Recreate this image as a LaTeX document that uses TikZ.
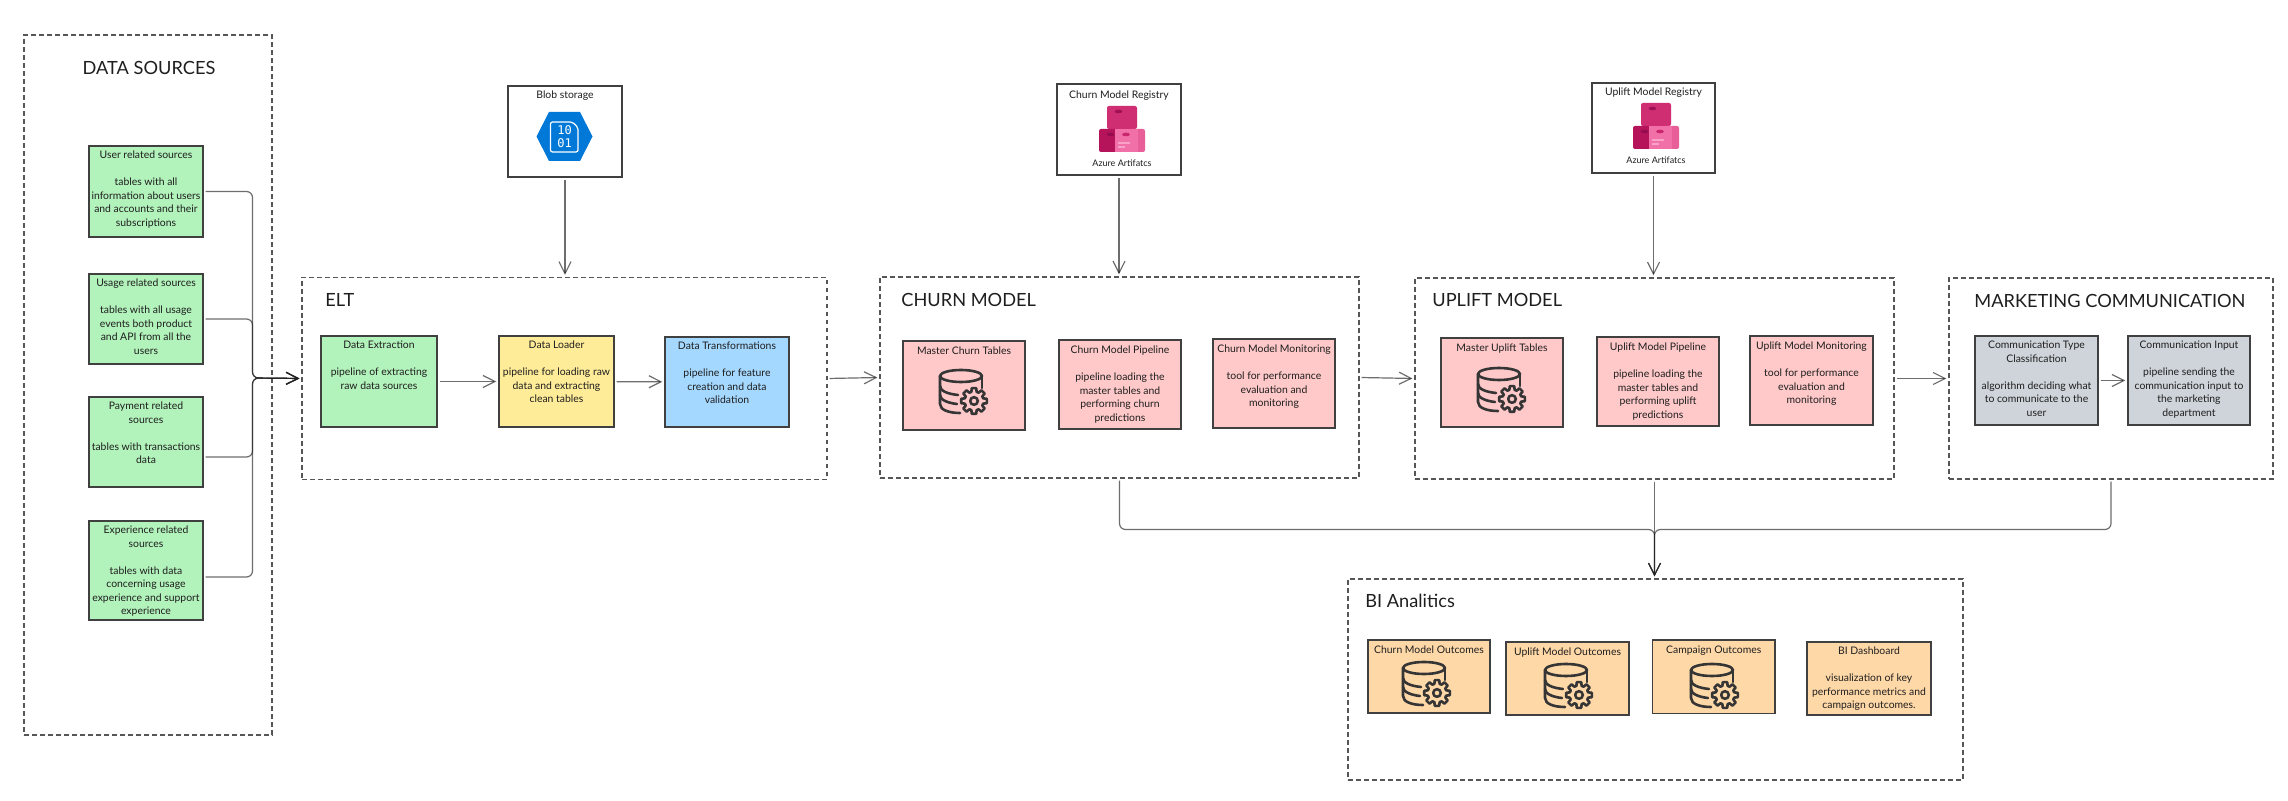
\documentclass[tikz,border=0pt]{standalone}
\usepackage{fontspec}
\setmainfont{Lato}
\newfontfamily\bitsfont{DejaVu Sans Mono}
\usetikzlibrary{arrows.meta}

\definecolor{inkdark}{HTML}{1E1E1E}
\definecolor{srcgreen}{HTML}{B2F2BB}
\definecolor{loadyellow}{HTML}{FFEC99}
\definecolor{transblue}{HTML}{A5D8FF}
\definecolor{modelpink}{HTML}{FFC9C9}
\definecolor{commgray}{HTML}{CED4DA}
\definecolor{biorange}{HTML}{FFD8A8}
\definecolor{azureblue}{HTML}{0078D7}

% one pixel of the drawing
\newdimen\pxu
\pxu=0.5pt

% card text: width, height, top gap, lines
\newcommand{\cardbody}[4]{\parbox[c][#2\pxu][t]{#1\pxu}{\centering\vspace*{#3\pxu}#4}}

\tikzset{
	card/.style={draw=inkdark!85, line width=0.7pt, inner sep=0pt, text=inkdark,
		font=\fontsize{5.2}{6.75}\selectfont},
	groupbox/.style={draw=inkdark!75, line width=0.55pt, dash pattern=on 2.4pt off 1.6pt, inner sep=0pt},
	grouptitle/.style={anchor=west, inner sep=0pt, text=inkdark, font=\fontsize{9.1}{11}\selectfont},
	smalltext/.style={inner sep=0pt, text=inkdark, font=\fontsize{4.5}{5.5}\selectfont},
	link/.style={draw=inkdark, draw opacity=0.65, line width=0.6pt, rounded corners=3pt, shorten <=1pt, shorten >=1pt,
		-{Straight Barb[length=6pt,width=6pt,line width=0.6pt]}},
	dbicon/.pic={
		\begin{scope}[draw=inkdark!90, line width=1.3pt, line cap=round, line join=round]
			\draw (22,7) ellipse (21 and 6);
			\draw (43,7) -- (43,19);
			\draw (1,7) -- (1,35) .. controls (1,41) and (10,44) .. (21,44);
			\draw (1,17) .. controls (1,22) and (9,25) .. (19,26);
			\draw (1,26) .. controls (1,31) and (9,34) .. (18,35);
			% gear
			\draw (35,32) ++(-16:9.5)
				\foreach \tooth in {0,45,...,315} {
					-- ([shift={(35,32)}]\tooth-16:9.5) -- ([shift={(35,32)}]\tooth-10:13)
					-- ([shift={(35,32)}]\tooth+10:13) -- ([shift={(35,32)}]\tooth+16:9.5)
				} -- cycle;
			\draw (35,32) circle (3.8);
		\end{scope}
	},
	artifacticon/.pic={
		\fill[fill={rgb,255:red,207;green,46;blue,114}, rounded corners=1pt] (8,0) rectangle (38,23);
		\fill[fill={rgb,255:red,181;green,19;blue,90}, rounded corners=1pt] (0,23) rectangle (18,46);
		\fill[fill={rgb,255:red,232;green,94;blue,153}, rounded corners=1pt] (30,23) rectangle (46,46);
		\fill[fill={rgb,255:red,241;green,112;blue,168}] (16,23) rectangle (39,46);
		\fill[fill={rgb,255:red,160;green,16;blue,84}] (19.5,5.5) ellipse (3.8 and 1.8);
		\fill[fill={rgb,255:red,150;green,12;blue,78}] (11.5,28.5) ellipse (3.8 and 1.8);
		\fill[fill={rgb,255:red,201;green,38;blue,110}] (27,28.5) ellipse (3.8 and 1.8);
		\fill[fill={rgb,255:red,249;green,162;blue,200}] (19,36) rectangle (31,38);
		\fill[fill={rgb,255:red,249;green,162;blue,200}] (19,40) rectangle (26,42);
	},
	blobicon/.pic={
		\fill[azureblue] (-28,0) -- (-15.5,-24.5) -- (15.5,-24.5) -- (28,0) -- (15.5,24.5) -- (-15.5,24.5) -- cycle;
		\draw[white, line width=0.6pt, rounded corners=1pt] (-14,-14.5) -- (8,-14.5) -- (13.5,-9) -- (13.5,15.5) -- (-14,15.5) -- cycle;
		\node[inner sep=0pt, text=white, align=center, font=\bitsfont\fontsize{6}{6.4}\selectfont] (-bits) at (0,0.5) {10\\01};
	},
}

\begin{document}
\begin{tikzpicture}[x=0.5pt,y=-0.5pt]
	\useasboundingbox (0,0) rectangle (2288,801);

	% groups
	\node[groupbox, minimum width=248\pxu, minimum height=700\pxu] (srcbox) at (148,385) {};
	\node[groupbox, minimum width=525\pxu, minimum height=202\pxu] (eltbox) at (564.5,378.5) {};
	\node[groupbox, minimum width=479\pxu, minimum height=201\pxu] (churnbox) at (1119.5,377.5) {};
	\node[groupbox, minimum width=479\pxu, minimum height=201\pxu] (upliftbox) at (1654.5,378.5) {};
	\node[groupbox, minimum width=324\pxu, minimum height=201\pxu] (mktbox) at (2111,378.5) {};
	\node[groupbox, minimum width=615\pxu, minimum height=201\pxu] (bibox) at (1655.5,679.5) {};

	% group titles
	\node[grouptitle, anchor=center] (srctitle) at (149,68) {DATA SOURCES};
	\node[grouptitle] (elttitle) at (325,300) {ELT};
	\node[grouptitle] (churntitle) at (901,300) {CHURN MODEL};
	\node[grouptitle] (uplifttitle) at (1432,300) {UPLIFT MODEL};
	\node[grouptitle] (mkttitle) at (1974,301) {MARKETING COMMUNICATION};
	\node[grouptitle] (bititle) at (1365,601) {BI Analitics};

	% data sources
	\node[card, fill=srcgreen] (usersrc) at (146,191.5) {\cardbody{114}{91}{5}{User related sources\\[6.75pt]tables with all\\information about users\\and accounts and their\\subscriptions}};
	\node[card, fill=srcgreen] (usagesrc) at (146,319) {\cardbody{114}{90}{5}{Usage related sources\\[6.75pt]tables with all usage\\events both product\\and API from all the\\users}};
	\node[card, fill=srcgreen] (paysrc) at (146,442) {\cardbody{114}{90}{5}{Payment related\\sources\\[6.75pt]tables with transactions\\data}};
	\node[card, fill=srcgreen] (expsrc) at (146,570.5) {\cardbody{114}{99}{5}{Experience related\\sources\\[6.75pt]tables with data\\concerning usage\\experience and support\\experience}};

	% elt
	\node[card, fill=srcgreen] (extract) at (379,381.5) {\cardbody{116}{91}{5}{Data Extraction\\[6.75pt]pipeline of extracting\\raw data sources}};
	\node[card, fill=loadyellow] (loader) at (556.5,381.5) {\cardbody{115}{91}{5}{Data Loader\\[6.75pt]pipeline for loading raw\\data and extracting\\clean tables}};
	\node[card, fill=transblue] (transform) at (727,382) {\cardbody{124}{90}{5}{Data Transformations\\[6.75pt]pipeline for feature\\creation and data\\validation}};

	% churn model
	\node[card, fill=modelpink] (churntables) at (964,385.5) {\cardbody{122}{89}{6}{Master Churn Tables}};
	\node[card, fill=modelpink] (churnpipe) at (1120,384.5) {\cardbody{122}{89}{6}{Churn Model Pipeline\\[6.75pt]pipeline loading the\\master tables and\\performing churn\\predictions}};
	\node[card, fill=modelpink] (churnmon) at (1274,383.5) {\cardbody{122}{89}{6}{Churn Model Monitoring\\[6.75pt]tool for performance\\evaluation and\\monitoring}};

	% uplift model
	\node[card, fill=modelpink] (uplifttables) at (1502,382.5) {\cardbody{122}{89}{6}{Master Uplift Tables}};
	\node[card, fill=modelpink] (upliftpipe) at (1658,381.5) {\cardbody{122}{89}{6}{Uplift Model Pipeline\\[6.75pt]pipeline loading the\\master tables and\\performing uplift\\predictions}};
	\node[card, fill=modelpink] (upliftmon) at (1811.5,380.5) {\cardbody{123}{89}{6}{Uplift Model Monitoring\\[6.75pt]tool for performance\\evaluation and\\monitoring}};

	% marketing communication
	\node[card, fill=commgray] (commtype) at (2036.5,380.5) {\cardbody{123}{89}{5}{Communication Type\\Classification\\[6.75pt]algorithm deciding what\\to communicate to the\\user}};
	\node[card, fill=commgray] (comminput) at (2189,380.5) {\cardbody{122}{89}{5}{Communication Input\\[6.75pt]pipeline sending the\\communication input to\\the marketing\\department}};

	% bi analitics
	\node[card, fill=biorange] (biChurn) at (1429,676.5) {\cardbody{122}{73}{6}{Churn Model Outcomes}};
	\node[card, fill=biorange] (biUplift) at (1567.5,678.5) {\cardbody{123}{73}{6}{Uplift Model Outcomes}};
	\node[card, fill=biorange] (biCampaign) at (1713.75,676.75) {\cardbody{122.5}{73.5}{6}{Campaign Outcomes}};
	\node[card, fill=biorange] (biDash) at (1869,678.5) {\cardbody{124}{73}{5}{BI Dashboard\\[6.75pt]visualization of key\\performance metrics and\\campaign outcomes.}};

	% registries
	\node[card, fill=white] (blobreg) at (565,131.5) {\cardbody{114}{91}{5}{Blob storage}};
	\node[card, fill=white] (churnreg) at (1119,129.5) {\cardbody{124}{91}{7}{Churn Model Registry}};
	\node[card, fill=white] (upliftreg) at (1653.5,128) {\cardbody{123}{90}{5}{Uplift Model Registry}};
	\node[smalltext] (churnart) at (1122,163) {Azure Artifatcs};
	\node[smalltext] (upliftart) at (1656,160) {Azure Artifatcs};

	% icons
	\pic (blobsym) at (564.5,136.5) {blobicon};
	\pic at (1099,106) {artifacticon};
	\pic at (1633,103) {artifacticon};
	\pic at (939,369) {dbicon};
	\pic at (1477,367) {dbicon};
	\pic at (1402,661) {dbicon};
	\pic at (1544,663) {dbicon};
	\pic at (1690,663) {dbicon};

	% junctions
	\coordinate (srcjoin) at (252.5,378);
	\coordinate (bijoin) at (1654.5,529.5);

	% sources into elt
	\draw[link] (usersrc.east) -- (usersrc.east -| srcjoin) -- (srcjoin) -- (eltbox.west);
	\draw[link] (usagesrc.east) -- (usagesrc.east -| srcjoin) -- (srcjoin) -- (eltbox.west);
	\draw[link] ([yshift=-7.5pt]paysrc.east) -- ([yshift=-7.5pt]paysrc.east -| srcjoin) -- (srcjoin) -- (eltbox.west);
	\draw[link] ([yshift=-3.25pt]expsrc.east) -- ([yshift=-3.25pt]expsrc.east -| srcjoin) -- (srcjoin) -- (eltbox.west);

	% inside groups
	\draw[link] (extract) -- (loader);
	\draw[link] (loader) -- (transform);
	\draw[link] (commtype) -- (comminput);

	% along the chain
	\draw[link] (eltbox.east) -- (churnbox.west);
	\draw[link] (churnbox.east) -- (upliftbox.west);
	\draw[link] (upliftbox.east) -- (mktbox.west);

	% registries into groups
	\draw[link] (blobreg.south) -- (blobreg.south |- eltbox.north);
	\draw[link] (churnreg.south) -- (churnreg.south |- churnbox.north);
	\draw[link] (upliftreg.south) -- (upliftreg.south |- upliftbox.north);

	% outcomes into bi
	\draw[link] (churnbox.south) -- (churnbox.south |- bijoin) -- (bijoin) -- (bijoin |- bibox.north);
	\draw[link] (upliftbox.south) -- (bijoin |- bibox.north);
	\draw[link] (mktbox.south) -- (mktbox.south |- bijoin) -- (bijoin) -- (bijoin |- bibox.north);
\end{tikzpicture}
\end{document}
